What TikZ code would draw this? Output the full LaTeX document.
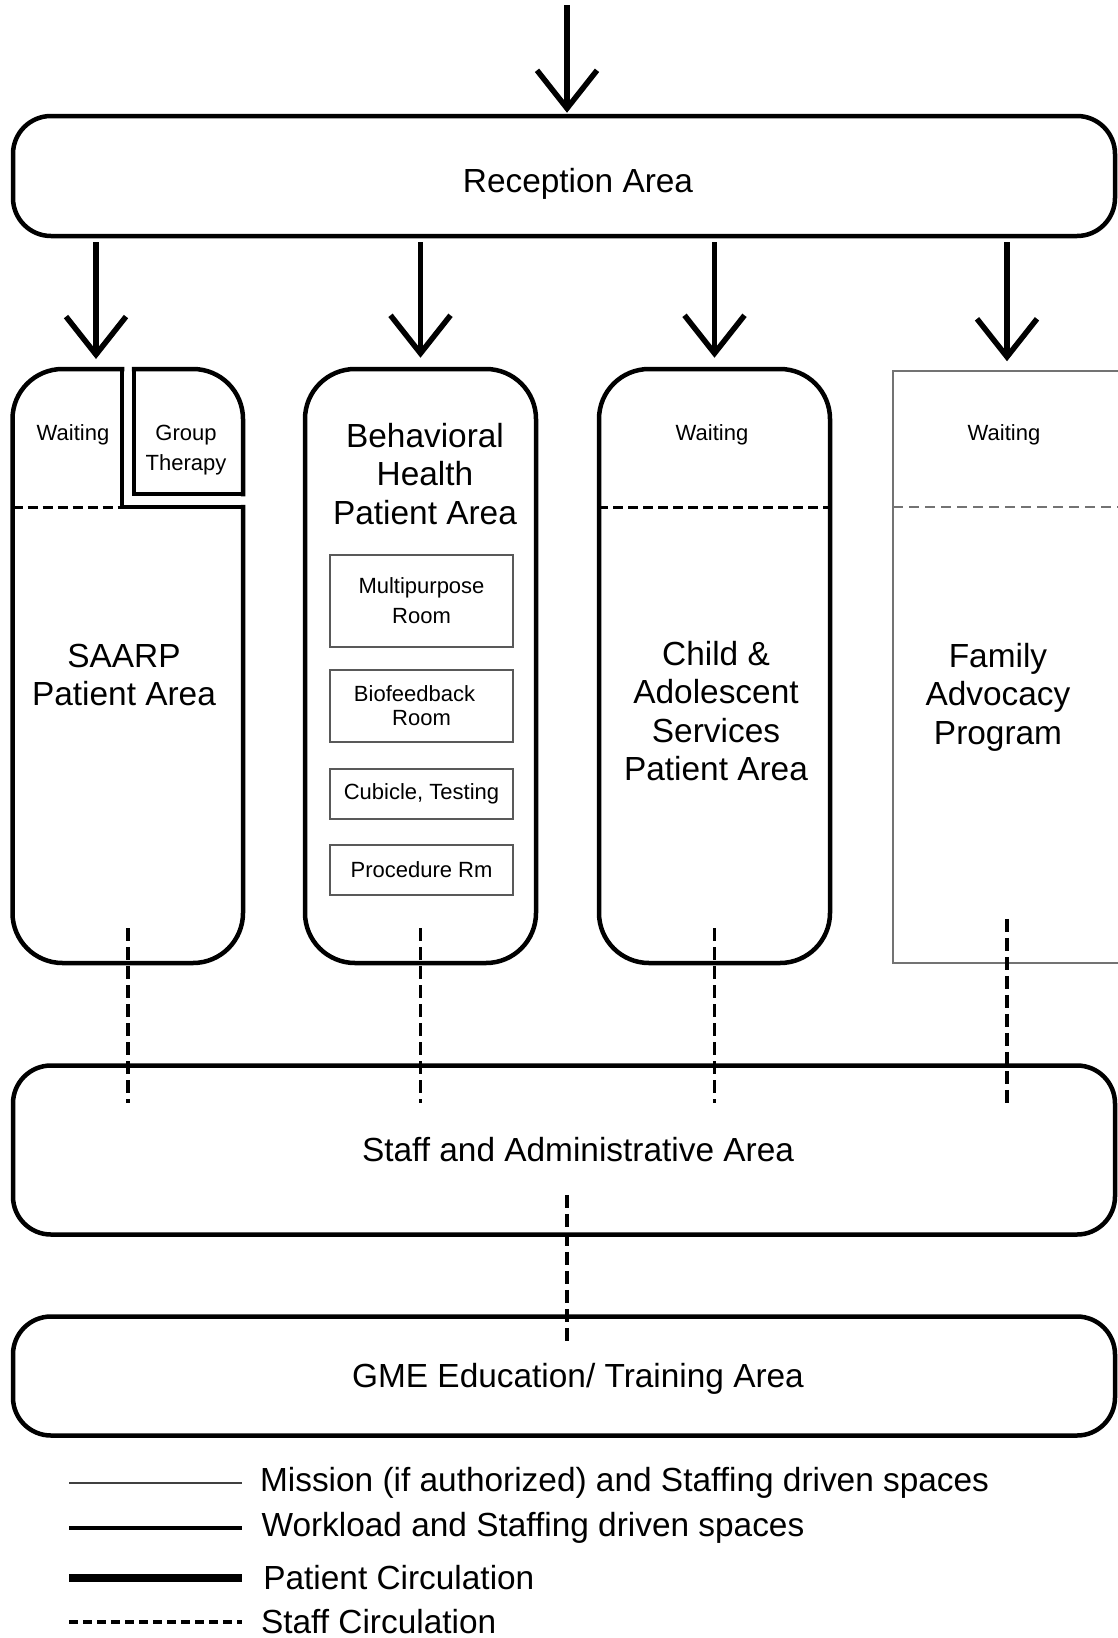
\documentclass[tikz,border=0pt]{standalone}
\usepackage{fontspec}
\setmainfont{Liberation Sans}
\usetikzlibrary{arrows.meta}

\newcommand{\areafont}{\fontsize{33.4}{38.5}\selectfont}
\newcommand{\roomfont}{\fontsize{22}{30}\selectfont}

\begin{document}
\begin{tikzpicture}[
			x = 1pt, y = -1pt,
			wall/.style = {line width = 4.5pt},
			area/.style = {wall, draw, rounded corners = 38pt, minimum width = 1102pt, font = \areafont,
				execute at begin node = \hspace*{28pt}},
			column/.style = {wall, draw, rounded corners = 50pt, minimum width = 231pt, minimum height = 594pt},
			room/.style = {draw = black!65, line width = 1.8pt, minimum width = 183pt, align = center, font = \roomfont},
			arealabel/.style = {align = center, font = \areafont},
			roomlabel/.style = {align = center, font = \roomfont},
			legend/.style = {right, xshift = 14pt, font = \areafont},
			patient/.style = {line width = 5.5pt, -{Straight Barb[length = 38pt, width = 60pt]}},
			staffline/.style = {line width = 3.5pt, dash pattern = on 13pt off 6pt},
			waitline/.style = {line width = 3pt, dash pattern = on 10pt off 5pt},
			mission/.style = {draw = black!55, line width = 1.5pt},
		]

		\useasboundingbox (0,0) rectangle (1118,1638);
		\clip (0,0) rectangle (1118,1638);

		\def\ytop{369}
		\def\ywait{507}

		\node[area, minimum height = 120pt, text height = 40pt] (reception) at (564,176) {Reception Area};
		\node[area, minimum height = 169pt] (staff) at (564,1150) {Staff and Administrative Area};
		\node[area, minimum height = 119pt, text height = 30pt] (gme) at (564,1376) {GME Education/ Training Area};

		\node[column, draw = none] (saarp) at (127.75,666) {};
		\node[column] (bhealth) at (420.5,666) {};
		\node[column] (child) at (714.5,666) {};
		\node[column, mission, sharp corners, minimum width = 228pt, minimum height = 592pt] (family) at (1007,667) {};

		\draw[wall, line cap = rect, rounded corners = 50pt] (122,\ytop) -- (12.5,\ytop) -- (12.5,963) -- (243,963) -- (243,\ywait);
		\draw[wall, line cap = rect] (243,\ywait) -- (122,\ywait) -- (122,\ytop);
		\draw[wall, line cap = rect, rounded corners = 50pt] (134,\ytop) -- (243,\ytop) -- (243,494);
		\draw[wall, line cap = rect] (243,494) -- (134,494) -- (134,\ytop);

		\draw[waitline] (12.5,\ywait) -- (122,\ywait);
		\draw[waitline] (598,\ywait) -- (831,\ywait);
		\draw[mission, dash pattern = on 10pt off 6pt] (893,\ywait) -- (1118,\ywait);

		\coordinate (entry) at (567,5);
		\coordinate (saarpin) at (96,\ytop);
		\draw[patient, shorten >= 1pt] (entry) -- (entry |- reception.north);
		\draw[patient, shorten <= 4pt, shorten >= 10pt] (reception.south -| saarpin) -- (saarpin);
		\foreach \col in {bhealth, child, family}
			\draw[patient, shorten <= 4pt, shorten >= 9pt] (reception.south -| \col) -- (\col.north);

		\foreach \col in {saarp, bhealth, child}
			\draw[staffline, shorten <= -37pt, shorten >= -40pt] (\col.south) -- (staff.north -| \col.south);
		\draw[staffline, shorten <= -45pt, shorten >= -40pt] (family.south) -- (staff.north -| family.south);
		\draw[staffline, shorten <= -42pt, shorten >= -32pt] (staff.south -| entry) -- (gme.north -| entry);

		\node[roomlabel] (saarpwait) at (73,435) {Waiting};
		\node[roomlabel] (grouptherapy) at (186,450) {Group\\Therapy};
		\node[arealabel] (saarplabel) at (124,675) {SAARP\\Patient Area};

		\node[arealabel] (bhlabel) at (425,474) {Behavioral\\Health\\Patient Area};
		\node[room, minimum height = 92pt] (multipurpose) at (421.5,601) {Multipurpose\\Room};
		\node[room, minimum height = 72pt] (biofeedback) at (421.5,706) {Biofeedback\hspace*{14pt}\\[-6pt]Room};
		\node[room, minimum height = 50pt] (cubicle) at (421.5,794) {Cubicle, Testing};
		\node[room, minimum height = 50pt] (procedure) at (421.5,870) {Procedure Rm};

		\node[roomlabel] (childwait) at (712,435) {Waiting};
		\node[arealabel] (childlabel) at (716,711) {Child \&\\Adolescent\\Services\\Patient Area};

		\node[roomlabel] (familywait) at (1004,435) {Waiting};
		\node[arealabel] (familylabel) at (998,697) {Family\\Advocacy\\Program};

		\draw[mission, draw = black!75] (69,1483) -- (242,1483) node[legend] (legmission) {Mission (if authorized) and Staffing driven spaces};
		\draw[wall] (69,1528) -- (242,1528) node[legend] (legworkload) {Workload and Staffing driven spaces};
		\draw[line width = 8pt] (69,1578) -- (242,1578) node[legend] (legpatient) {Patient Circulation};
		\draw[line width = 3.5pt, dash pattern = on 9pt off 5pt] (69,1622) -- (242,1622) node[legend] (legstaff) {Staff Circulation};

	\end{tikzpicture}
\end{document}
